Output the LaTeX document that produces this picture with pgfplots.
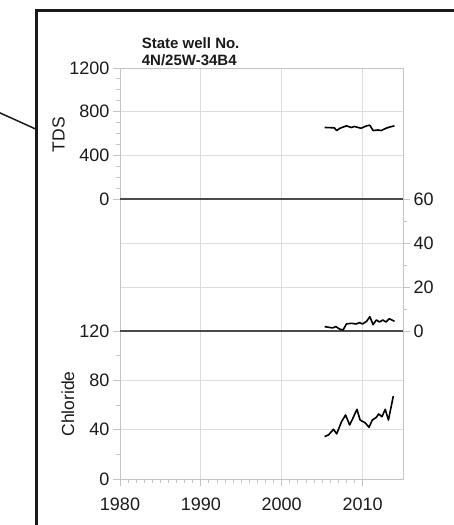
\documentclass[border=0pt]{standalone}
\usepackage{fontspec}
\setmainfont{Liberation Sans}
\usepackage{pgfplots}
\pgfplotsset{compat=1.18}
\definecolor{axgray}{HTML}{C4C4C4}
\definecolor{gridgray}{HTML}{DCDCDC}
\definecolor{sepgray}{HTML}{4A4A4A}
\definecolor{txt}{HTML}{1A1A1A}
\pgfplotsset{
  panel/.style={
    scale only axis, width=283pt,
    xmin=1980, xmax=2015,
    xtick={1980,1990,2000,2010},
    grid=major,
    major grid style={draw=gridgray, line width=0.9pt},
    axis line style={draw=axgray, line width=0.9pt},
    tick style={draw=axgray, line width=0.9pt},
    tick align=outside,
    major tick length=7pt, minor tick length=4pt,
    /pgf/number format/assume math mode=true,
    /pgf/number format/1000 sep={},
    tick label style={font=\fontsize{18}{21}\selectfont, text=txt},
    label style={font=\fontsize{17.5}{20}\selectfont, text=txt},
    clip=false,
  },
  dataline/.style={black, line width=1.6pt, line join=round, no marks},
}
\begin{document}
\begin{tikzpicture}[x=1pt,y=1pt]
\useasboundingbox (0,0) rectangle (454,525);
% frame and leader line
\draw[txt, line width=3pt] (36.7,-10) -- (36.7,514) -- (470,514);
\draw[txt, line width=1.5pt] (-2,413) -- (36.7,395.5);
% Chloride panel
\begin{axis}[panel, at={(120pt,46pt)}, anchor=south west, height=148pt,
  ymin=0, ymax=120, ytick={0,40,80,120},
  minor y tick num=1, minor x tick num=9,
  xtick pos=left, ytick pos=left,
  ylabel={Chloride}, ylabel style={at={(axis description cs:-0.184,0.507)}, anchor=center},
  xticklabel style={yshift=-8pt}]
\addplot[dataline] coordinates {(2005.3,34.4)(2005.8,35.8)(2006.4,40.3)(2006.8,36.6)(2007.4,46.5)(2007.9,51.9)(2008.4,43.8)(2008.8,49.2)(2009.3,56.5)(2009.7,47.8)(2010.3,45.7)(2010.8,41.9)(2011.2,47.8)(2011.7,50.0)(2012.0,52.7)(2012.4,50.5)(2012.8,56.5)(2013.2,47.8)(2013.8,67.2)};
\end{axis}
% TDS panel
\begin{axis}[panel, at={(120pt,326pt)}, anchor=south west, height=131pt,
  ymin=0, ymax=1200, ytick={0,400,800,1200},
  minor y tick num=3, ytick pos=left,
  xticklabels={}, xtick style={draw=none},
  ylabel={TDS}, ylabel style={at={(axis description cs:-0.217,0.49)}, anchor=center}]
\addplot[dataline] coordinates {(2005.3,655)(2006.5,652)(2006.8,627)(2007.2,648)(2008.0,670)(2008.6,655)(2009.0,664)(2009.8,648)(2010.5,670)(2010.9,676)(2011.3,627)(2011.9,632)(2012.3,627)(2012.9,648)(2013.3,658)(2013.95,670)};
\end{axis}
% middle panel (right axis)
\begin{axis}[panel, at={(120pt,194pt)}, anchor=south west, height=132pt,
  ymin=0, ymax=60, ytick={0,20,40,60},
  minor y tick num=1, ytick pos=right, yticklabel pos=right,
  xticklabels={}, xtick style={draw=none}]
\draw[sepgray, line width=1.6pt] (axis cs:1980,60) -- (axis cs:2015,60);
\draw[sepgray, line width=1.6pt] (axis cs:1980,0) -- (axis cs:2015,0);
\addplot[dataline] coordinates {(2005.3,2.0)(2006.3,1.4)(2006.7,2.0)(2007.2,0.8)(2007.6,0.5)(2008.0,3.2)(2008.6,3.5)(2009.2,3.2)(2009.6,3.8)(2010.0,3.2)(2010.5,4.4)(2010.9,6.5)(2011.3,2.9)(2011.7,5.0)(2012.1,4.1)(2012.5,5.0)(2012.9,4.1)(2013.3,5.6)(2013.95,4.4)};
\end{axis}
% title
\node[anchor=base west, font=\fontsize{15}{18}\selectfont\bfseries, text=txt, inner sep=0pt] at (141.7,476.7) {State well No.};
\node[anchor=base west, font=\fontsize{15}{18}\selectfont\bfseries, text=txt, inner sep=0pt] at (141.7,459) {4N/25W-34B4};
\end{tikzpicture}
\end{document}
